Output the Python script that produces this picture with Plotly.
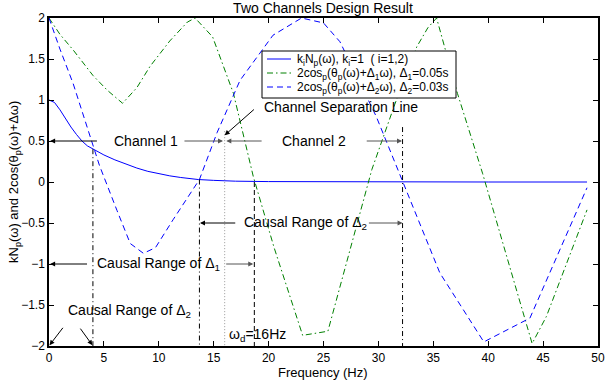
import plotly.graph_objects as go

# ---------------- data ----------------
# k_i N_p(omega)
f_n = [0, 0.5, 1, 1.5, 2, 2.5, 3, 3.5, 4, 5, 6, 7, 8, 9, 10, 11, 12, 13.6, 15, 17, 20, 25, 30, 40, 49]
v_n = [1.0, 0.97, 0.88, 0.77, 0.67, 0.58, 0.50, 0.44, 0.40, 0.33, 0.27, 0.22, 0.17, 0.13, 0.10, 0.075, 0.055, 0.03, 0.02, 0.01, 0.005, 0.002, 0.0, 0.0, 0.0]

# 2cos_p(theta_p + Delta1*w), Delta1 = 0.05 s
f_g = [0, 1, 2.2, 4, 5.3, 6.7, 8, 9.2, 11, 12.6, 13.3, 14.9, 16.8, 18.6, 20.5, 22.3, 23.1, 25.4, 27.4, 29.4, 31.5, 33.5, 34.5, 35.3, 37.2, 39.5, 42.3, 44, 45.3, 49]
v_g = [2.0, 1.80, 1.61, 1.30, 1.12, 0.96, 1.15, 1.41, 1.72, 1.95, 2.0, 1.77, 1.08, 0.07, -0.80, -1.55, -1.87, -1.82, -0.83, 0.15, 0.95, 1.65, 1.88, 2.0, 1.08, 0.10, -1.19, -1.97, -1.64, -0.34]

# 2cos_p(theta_p + Delta2*w), Delta2 = 0.03 s
f_b = [0, 1, 2.2, 3.9, 4.6, 6.2, 7.4, 8.6, 9.7, 11.3, 13.7, 15.3, 17.4, 20.4, 23.0, 25.0, 26.5, 29.8, 32.2, 35.6, 39.6, 43.8, 49]
v_b = [2.0, 1.62, 1.2, 0.51, 0.2, -0.35, -0.75, -0.87, -0.80, -0.46, 0.03, 0.6, 1.24, 1.79, 2.0, 1.94, 1.71, 0.8, 0.0, -1.11, -1.95, -1.66, -0.07]

# vertical marker lines: frequency, top value, style
vl_f = [4.0, 13.7, 16.0, 18.7, 32.2]
vl_top = [0.40, 0.03, 0.62, 0.0, 0.67]
vl_dash = ["dashdot", "dashdot", "dot", "dash", "dashdot"]
vl_col = ["black", "black", "#999999", "black", "black"]

x_ticks = [0, 5, 10, 15, 20, 25, 30, 35, 40, 45, 50]
y_ticks = [-2, -1.5, -1, -0.5, 0, 0.5, 1, 1.5, 2]

series_names = [
    "k<sub>i</sub>N<sub>p</sub>(ω), k<sub>i</sub>=1  ( i=1,2)",
    "2cos<sub>p</sub>(θ<sub>p</sub>(ω)+Δ<sub>1</sub>ω), Δ<sub>1</sub>=0.05s",
    "2cos<sub>p</sub>(θ<sub>p</sub>(ω)+Δ<sub>2</sub>ω), Δ<sub>2</sub>=0.03s",
]
series_colors = ["#0000ff", "#008000", "#0000ff"]
DASH_G = "6px,3px,1.5px,3px"
DASH_B = "6px,4px"
series_dash = ["solid", DASH_G, DASH_B]

FONT = "Liberation Sans, Arial, sans-serif"

fig = go.Figure()
for fx, fy, nm, c, d in zip([f_n, f_g, f_b], [v_n, v_g, v_b], series_names, series_colors, series_dash):
    fig.add_trace(go.Scatter(x=fx, y=fy, mode="lines", line=dict(color=c, width=1, dash=d),
                             name=nm, showlegend=False, hoverinfo="skip"))

dash_map = {"dashdot": "5px,3px,1px,3px", "dot": "1px,2px", "dash": "5px,3px"}
for xf, yt, ds, c in zip(vl_f, vl_top, vl_dash, vl_col):
    fig.add_trace(go.Scatter(x=[xf, xf], y=[yt, -2], mode="lines", showlegend=False,
                             line=dict(color=c, width=1, dash=dash_map[ds]), hoverinfo="skip"))

anns = []
def arrow(x0, y0, x1, y1, color="black"):
    anns.append(dict(x=x1, y=y1, ax=x0, ay=y0, xref="x", yref="y", axref="x", ayref="y",
                     text="", showarrow=True, arrowhead=2, arrowsize=1, arrowwidth=1, arrowcolor=color,
                     standoff=0, startstandoff=0))

def label(x, y, t, size=14):
    anns.append(dict(x=x, y=y, xref="x", yref="y", text=t, showarrow=False,
                     font=dict(family=FONT, size=size, color="black"), xanchor="center", yanchor="middle"))

# Channel 1
label(8.8, 0.5, "Channel 1")
arrow(4.5, 0.5, 0.1, 0.5)
arrow(12.2, 0.5, 15.85, 0.5, "#555555")
# Channel 2
label(24.1, 0.5, "Channel 2")
arrow(19.5, 0.5, 16.15, 0.5, "#555555")
arrow(28.8, 0.5, 32.15, 0.5, "#555555")
# Channel separation line
label(26.6, 0.92, "Channel Separation Line")
arrow(18.8, 0.9, 16.0, 0.57)
# Causal Range of Delta2 (middle)
label(23.4, -0.5, "Causal Range of Δ<sub>2</sub>")
arrow(17.1, -0.5, 13.75, -0.5)
arrow(29.0, -0.5, 32.2, -0.5, "#555555")
# Causal Range of Delta1
label(10.0, -1.0, "Causal Range of Δ<sub>1</sub>")
arrow(3.6, -1.0, 0.1, -1.0)
arrow(16.0, -1.0, 18.6, -1.0, "#555555")
# Causal Range of Delta2 (bottom)
label(7.3, -1.57, "Causal Range of Δ<sub>2</sub>")
arrow(1.37, -1.76, 0.05, -1.99)
arrow(2.76, -1.77, 3.95, -1.99)
# omega_d
label(19.0, -1.86, "ω<sub>d</sub>=16Hz")

# plot area in pixels
L, R, T, B = 49, 598, 18, 346
def px(xp):
    return (xp - L) / (R - L)
def py(yp):
    return (B - yp) / (B - T)

# axis titles
anns.append(dict(x=px(323), y=py(372), xref="paper", yref="paper", text="Frequency (Hz)", showarrow=False,
                 font=dict(family=FONT, size=13, color="black"), xanchor="center", yanchor="middle"))
anns.append(dict(x=px(14), y=py(182), xref="paper", yref="paper",
                 text="kN<sub>p</sub>(ω) and 2cos(θ<sub>p</sub>(ω)+Δω)", showarrow=False, textangle=-90,
                 font=dict(family=FONT, size=13, color="black"), xanchor="center", yanchor="middle"))

# manual legend
shapes = [dict(type="rect", xref="paper", yref="paper", x0=px(262), x1=px(456), y0=py(98), y1=py(51),
               line=dict(color="black", width=1), fillcolor="white", layer="above")]
row_y = [59, 73, 87]
for ry, nm, c, d in zip(row_y, series_names, series_colors, series_dash):
    shapes.append(dict(type="line", xref="paper", yref="paper", x0=px(267), x1=px(291), y0=py(ry), y1=py(ry),
                       line=dict(color=c, width=1, dash=d), layer="above"))
    anns.append(dict(x=px(295), y=py(ry + 1), xref="paper", yref="paper", text=nm, showarrow=False,
                     font=dict(family=FONT, size=12, color="black"), xanchor="left", yanchor="middle"))

fig.update_layout(
    width=605, height=381,
    margin=dict(l=L, r=605 - R, t=T, b=381 - B),
    paper_bgcolor="white", plot_bgcolor="white",
    font=dict(family=FONT, size=12, color="black"),
    title=dict(text="Two Channels Design Result", x=px(323), xanchor="center", y=1 - 8 / 381, yanchor="middle",
               xref="paper", font=dict(family=FONT, size=14, color="black")),
    showlegend=False,
    annotations=anns,
    shapes=shapes,
)
fig.update_xaxes(range=[0, 50], tickvals=x_ticks, ticks="inside", ticklen=5, tickcolor="black",
                 showline=True, linecolor="black", linewidth=1.5, mirror="allticks", showgrid=False,
                 zeroline=False, tickfont=dict(size=12), automargin=False)
fig.update_yaxes(range=[-2, 2], tickvals=y_ticks, ticks="inside", ticklen=5, tickcolor="black",
                 showline=True, linecolor="black", linewidth=1.5, mirror="allticks", showgrid=False,
                 zeroline=False, tickfont=dict(size=12), automargin=False)

fig.write_html("out.html", config={"displayModeBar": False},
               post_script="document.body.style.margin='0';document.body.style.overflow='hidden';")
